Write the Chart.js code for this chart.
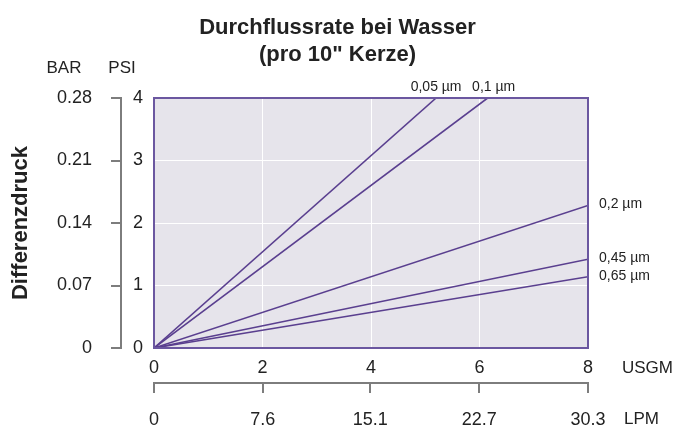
<!DOCTYPE html>
<html>
<head>
<meta charset="utf-8">
<script src="https://cdn.jsdelivr.net/npm/chart.js@4"></script>
<style>
	html, body { margin: 0; padding: 0; background: #fff; }
	#wrap { width: 675px; height: 428px; }
</style>
</head>
<body>
<div id="wrap"><canvas id="flowChart" width="675" height="428"></canvas></div>
<script>
// Filterfeinheiten und Endpunkte der Geraden (alle starten bei 0/0)
const filterLabels = ['0,05 µm', '0,1 µm', '0,2 µm', '0,45 µm', '0,65 µm'];
const flowEndUsgm = [5.2, 6.15, 8, 8, 8];
const pressureEndPsi = [4, 4, 2.28, 1.42, 1.14];

// Achsenbeschriftungen
const usgmTicks = [0, 2, 4, 6, 8];
const lpmTicks = [0, 7.6, 15.1, 22.7, 30.3];
const psiTicks = [0, 1, 2, 3, 4];
const barTicks = [0, 0.07, 0.14, 0.21, 0.28];

const lineColor = '#5a3f8f';
const frameColor = '#6b57a0';
const plotBg = '#e6e4eb';
const axisGray = '#7d7d7d';
const textColor = '#222';

Chart.defaults.font.family = "'Liberation Sans', Arial, sans-serif";
Chart.defaults.font.size = 18;
Chart.defaults.color = textColor;

const datasets = filterLabels.map((label, i) => ({
	label: label,
	data: [{ x: 0, y: 0 }, { x: flowEndUsgm[i], y: pressureEndPsi[i] }],
	borderColor: lineColor,
	borderWidth: 1.6,
	pointRadius: 0,
	fill: false,
	tension: 0
}));

const plotFrame = {
	id: 'plotFrame',
	beforeDraw(chart) {
		const { ctx, chartArea: a } = chart;
		ctx.save();
		ctx.fillStyle = plotBg;
		ctx.fillRect(a.left, a.top, a.right - a.left, a.bottom - a.top);
		ctx.restore();
	},
	afterDatasetsDraw(chart) {
		const { ctx, chartArea: a } = chart;
		ctx.save();
		ctx.strokeStyle = frameColor;
		ctx.lineWidth = 2;
		ctx.strokeRect(a.left, a.top, a.right - a.left, a.bottom - a.top);
		ctx.restore();
	},
	afterDraw(chart) {
		const { ctx, chartArea: a, scales } = chart;
		const x = scales.x, y = scales.y;
		ctx.save();
		ctx.fillStyle = textColor;
		ctx.textBaseline = 'middle';

		// Beschriftung der Geraden
		ctx.font = "14px 'Liberation Sans', Arial, sans-serif";
		filterLabels.forEach((label, i) => {
			const px = x.getPixelForValue(flowEndUsgm[i]);
			const py = y.getPixelForValue(pressureEndPsi[i]);
			if (pressureEndPsi[i] >= y.max) {
				ctx.textAlign = 'center';
				ctx.fillText(label, px + (i === 1 ? 6 : 0), py - 11);
			} else {
				ctx.textAlign = 'left';
				ctx.fillText(label, px + 11, py - 1);
			}
		});

		// Einheiten
		ctx.font = "17px 'Liberation Sans', Arial, sans-serif";
		ctx.textAlign = 'center';
		ctx.fillText('BAR', scales.yBar.right - 57, a.top - 30);
		ctx.fillText('PSI', scales.yBar.right + 1, a.top - 30);
		ctx.textAlign = 'left';
		ctx.fillText('USGM', a.right + 34, x.top + 20);
		ctx.fillText('LPM', a.right + 36, scales.xLpm.top + 36);
		ctx.restore();
	}
};

new Chart(document.getElementById('flowChart').getContext('2d'), {
	type: 'line',
	data: { datasets: datasets },
	options: {
		responsive: false,
		animation: false,
		layout: { padding: 0 },
		plugins: {
			legend: { display: false },
			tooltip: { enabled: false },
			title: {
				display: true,
				text: ['Durchflussrate bei Wasser', '(pro 10" Kerze)'],
				color: textColor,
				font: { size: 22, weight: 'bold', lineHeight: 1.25 },
				padding: { top: 14, bottom: 29 }
			}
		},
		scales: {
			x: {
				type: 'linear',
				position: 'bottom',
				min: 0,
				max: 8,
				afterBuildTicks: s => { s.ticks = usgmTicks.map(v => ({ value: v })); },
				afterFit: s => { s.height = 35; },
				grid: { color: '#ffffff', lineWidth: 1, drawTicks: false },
				border: { display: false },
				ticks: { padding: 9, maxRotation: 0 }
			},
			xLpm: {
				type: 'linear',
				position: 'bottom',
				weight: 1,
				min: 0,
				max: 30.3,
				afterBuildTicks: s => { s.ticks = lpmTicks.map(v => ({ value: v })); },
				afterFit: s => { s.height = 45; },
				grid: { drawOnChartArea: false, drawTicks: true, tickLength: 10, color: axisGray, lineWidth: 2 },
				border: { display: true, color: axisGray, width: 2 },
				ticks: { padding: 16, maxRotation: 0, callback: v => String(v) }
			},
			y: {
				type: 'linear',
				position: 'left',
				min: 0,
				max: 4,
				afterBuildTicks: s => { s.ticks = psiTicks.map(v => ({ value: v })); },
				afterFit: s => { s.width = 33; },
				grid: { color: '#ffffff', lineWidth: 1, drawTicks: false },
				border: { display: false },
				ticks: { padding: 11 }
			},
			yBar: {
				type: 'linear',
				position: 'left',
				weight: 1,
				min: 0,
				max: 0.28,
				afterBuildTicks: s => { s.ticks = barTicks.map(v => ({ value: v })); },
				afterFit: s => { s.width = 121; },
				grid: { drawOnChartArea: false, drawTicks: true, tickLength: 10, color: axisGray, lineWidth: 2 },
				border: { display: true, color: axisGray, width: 2 },
				ticks: { padding: 19, callback: v => String(v) },
				title: {
					display: true,
					text: 'Differenzdruck',
					color: textColor,
					font: { size: 22, weight: 'bold', lineHeight: 1.2 },
					padding: { top: 8, bottom: 0 }
				}
			},
			// leerer Rand rechts für Beschriftungen und Einheiten
			yRight: {
				type: 'linear',
				position: 'right',
				min: 0,
				max: 4,
				afterFit: s => { s.width = 87; },
				grid: { display: false },
				border: { display: false },
				ticks: { display: false }
			}
		}
	},
	plugins: [plotFrame]
});
</script>
</body>
</html>
